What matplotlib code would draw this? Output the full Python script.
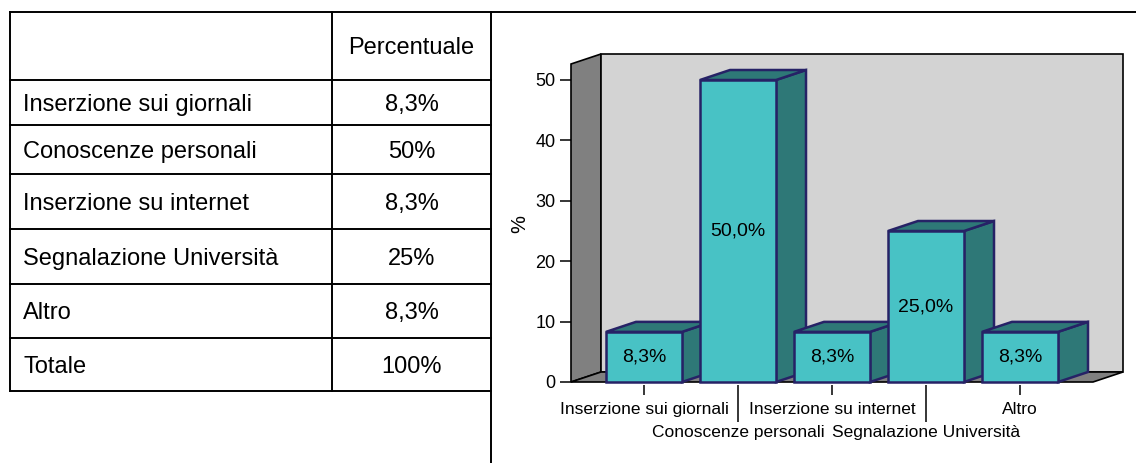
import matplotlib
matplotlib.use("Agg")
import matplotlib.pyplot as plt
from matplotlib.patches import Polygon
from matplotlib.lines import Line2D

plt.rcParams['font.family'] = ['Liberation Sans', 'DejaVu Sans']

# ---------------- data ----------------
categories = ["Inserzione sui giornali", "Conoscenze personali",
              "Inserzione su internet", "Segnalazione Università", "Altro"]
values = [8.3, 50.0, 8.3, 25.0, 8.3]
table_header = "Percentuale"
total_label = "Totale"
total_value = 100
y_ticks = [0, 10, 20, 30, 40, 50]


def it_pct(v, decimals=None):
    if decimals is None:
        decimals = 0 if float(v).is_integer() else 1
    return (f"{v:.{decimals}f}%").replace(".", ",")


W, H = 1136, 463
fig = plt.figure(figsize=(W / 100, H / 100), dpi=100)


def fx(px):
    return px / W


def fy(py):
    return 1 - py / H


# ---------------- table (left) ----------------
lw_t = 1.4
tx0, tcol, tx1 = 10, 332, 491
rows_y = [12, 80, 125, 174, 229, 284, 338, 391]
fig.add_artist(Line2D([fx(tx0), 1.0], [fy(12), fy(12)], color="black", lw=lw_t))
for yy in rows_y[1:]:
    fig.add_artist(Line2D([fx(tx0), fx(tx1)], [fy(yy), fy(yy)], color="black", lw=lw_t))
fig.add_artist(Line2D([fx(tx0), fx(tx0)], [fy(12), fy(391)], color="black", lw=lw_t))
fig.add_artist(Line2D([fx(tcol), fx(tcol)], [fy(12), fy(391)], color="black", lw=lw_t))
fig.add_artist(Line2D([fx(tx1), fx(tx1)], [fy(12), fy(H)], color="black", lw=lw_t))

fs_t = 17
em = fs_t * 100 / 72
row_labels = categories + [total_label]
row_vals = [it_pct(v) for v in values] + [it_pct(total_value)]
centers = [(rows_y[i] + rows_y[i + 1]) / 2 for i in range(len(rows_y) - 1)]
fig.text(fx((tcol + tx1) / 2), fy(centers[0] + 0.358 * em), table_header,
         ha="center", va="baseline", fontsize=fs_t)
for lab, val, cy in zip(row_labels, row_vals, centers[1:]):
    fig.text(fx(23), fy(cy + 0.358 * em), lab, ha="left", va="baseline", fontsize=fs_t)
    fig.text(fx((tcol + tx1) / 2), fy(cy + 0.358 * em), val, ha="center",
             va="baseline", fontsize=fs_t)

# ---------------- 3D-style bar chart (right) ----------------
px_per_cat = 94.0
px_per_unit = 6.04
ax_left_px, ax_right_px = 571, 1126
ax_bottom_px, ax_top_px = 382, 55
x_first_center_px = 644
ax = fig.add_axes([fx(ax_left_px), fy(ax_bottom_px),
                   (ax_right_px - ax_left_px) / W, (ax_bottom_px - ax_top_px) / H])
xmin = -(x_first_center_px - ax_left_px) / px_per_cat
xmax = xmin + (ax_right_px - ax_left_px) / px_per_cat
ax.set_xlim(xmin, xmax)
ax.set_ylim(0, (ax_bottom_px - ax_top_px) / px_per_unit)
ax.patch.set_visible(False)

dx = 30 / px_per_cat
dy = 10 / px_per_unit
n = len(categories)
front_left = xmin
front_right = (n - 1) + (x_first_center_px - ax_left_px) / px_per_cat
wall_top = 52.65

wall_grey = "#808080"
back_grey = "#D3D3D3"
edge_k = dict(edgecolor="black", linewidth=1.2, joinstyle="miter")
ax.add_patch(Polygon([(front_left, 0), (front_left, wall_top),
                      (front_left + dx, wall_top + dy), (front_left + dx, dy)],
                     facecolor=wall_grey, zorder=1, clip_on=False, **edge_k))
ax.add_patch(Polygon([(front_left + dx, dy), (front_left + dx, wall_top + dy),
                      (front_right + dx, wall_top + dy), (front_right + dx, dy)],
                     facecolor=back_grey, zorder=1, clip_on=False, **edge_k))
ax.add_patch(Polygon([(front_left, 0), (front_right, 0),
                      (front_right + dx, dy), (front_left + dx, dy)],
                     facecolor=wall_grey, zorder=1, clip_on=False, **edge_k))

front_c = "#48C2C5"
side_c = "#2E7877"
edge_c = "#262266"
bw = 76 / px_per_cat
for i, v in enumerate(values):
    x0, x1 = i - bw / 2, i + bw / 2
    z = 3 + i
    kw = dict(edgecolor=edge_c, linewidth=1.8, joinstyle="miter", clip_on=False, zorder=z)
    ax.add_patch(Polygon([(x1, 0), (x1 + dx, dy), (x1 + dx, v + dy), (x1, v)],
                         facecolor=side_c, **kw))
    ax.add_patch(Polygon([(x0, v), (x1, v), (x1 + dx, v + dy), (x0 + dx, v + dy)],
                         facecolor=side_c, **kw))
    ax.add_patch(Polygon([(x0, 0), (x1, 0), (x1, v), (x0, v)],
                         facecolor=front_c, **kw))
    ax.text(i, v / 2, it_pct(v, 1), ha="center", va="center", fontsize=14,
            zorder=z + 0.5)

for s in ["top", "right", "left", "bottom"]:
    ax.spines[s].set_visible(False)
ax.set_yticks(y_ticks)
ax.set_yticklabels([str(t) for t in y_ticks], fontsize=13)
ax.tick_params(axis="y", length=8, width=1.1, pad=3.0, direction="out")

ax.spines["bottom"].set_position(("outward", 2.2))
ax.set_xticks(list(range(0, n, 2)))
ax.set_xticklabels(categories[0::2], fontsize=12.5)
ax.set_xticks(list(range(1, n, 2)), minor=True)
ax.set_xticklabels(categories[1::2], minor=True, fontsize=12.5)
ax.tick_params(axis="x", which="major", length=7.5, width=1.1, pad=5.0)
ax.tick_params(axis="x", which="minor", length=26.5, width=1.1, pad=2.5)

ax.set_ylabel("%", fontsize=14.5)
ax.yaxis.set_label_coords((529 - ax_left_px) / (ax_right_px - ax_left_px),
                          (ax_bottom_px - 224) / (ax_bottom_px - ax_top_px))

fig.savefig("out.png", dpi=100)
